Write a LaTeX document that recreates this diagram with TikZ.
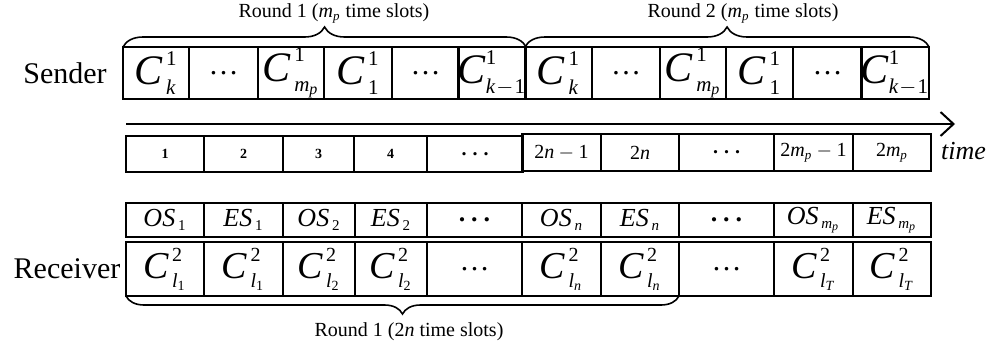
\documentclass[tikz,border=0pt]{standalone}
\usepackage{amsmath}
\usepackage{fontspec}
\setmainfont{Liberation Serif}
\usetikzlibrary{arrows.meta,decorations.pathreplacing,positioning}
\DeclareMathSizes{21}{21}{10.5}{8}
\DeclareMathSizes{19}{19}{10}{7}
\DeclareMathSizes{13}{13}{7.5}{6}
\DeclareMathSizes{10}{10}{6.5}{5}
\newcommand{\mi}[1]{\textit{#1}}
\newcommand{\mr}[1]{\textup{#1}}
\newcommand{\cdotsbig}{{\fontsize{15}{18}\selectfont\ldots}}
\newcommand{\tdots}{\textbf{.\hspace{3pt}.\hspace{3pt}.}}
\newcommand{\chan}[2]{$\mi{C}^{\,\mr{#1}}_{\,#2}$}
\newcommand{\chanlast}{$\mi{C}^{\mr{1}}_{\mi{k}\mkern1mu-\mkern1mu\mr{1}}$}

\begin{document}
\begin{tikzpicture}[x=0.5pt,y=-0.5pt,
	slot/.style={draw, line width=1pt, inner sep=0pt, outer sep=0pt},
	brc/.style={decorate, decoration={brace, amplitude=#1}, line width=0.8pt},
	brc/.default=10pt,
	sendfont/.style={font=\fontsize{21}{25}\selectfont},
	recfont/.style={font=\fontsize{19}{23}\selectfont},
	esfont/.style={font=\fontsize{13}{15}\selectfont},
	timefont/.style={font=\fontsize{10}{12}\selectfont},
	numfont/.style={font=\fontsize{7}{8}\selectfont\bfseries}]
	\useasboundingbox (0,0) rectangle (987,354);

	% sender row
	\node[font=\fontsize{15}{18}\selectfont] (sender) at (65,73) {Sender};
	\foreach \xa/\xb/\lab [count=\i] in {
		123/189/{\chan{1}{\mi{k}}}, 189/258/{\cdotsbig},
		258/324/{\chan{1}{\mi{m}_{\mi{p}}}}, 324/392/{\chan{1}{\mr{1}}},
		392/459/{\cdotsbig}, 459/525/{\chanlast},
		525/592/{\chan{1}{\mi{k}}}, 592/660/{\cdotsbig},
		660/726/{\chan{1}{\mi{m}_{\mi{p}}}}, 726/793/{\chan{1}{\mr{1}}},
		793/862/{\cdotsbig}, 862/928/{\chanlast}}{
		\pgfmathsetmacro\w{(\xb-\xa)*0.5}
		\node[slot, sendfont, minimum width=\w pt, minimum height=26pt] (s\i) at ({(\xa+\xb)/2},73) {\lab};
	}
	\draw[brc] (s1.north west) -- (s6.north east);
	\draw[brc] (s7.north west) -- (s12.north east);
	\node[font=\fontsize{10}{12}\selectfont] (round1) at (334,13) {Round 1 ($\mi{m}_{\mi{p}}$ time slots)};
	\node[font=\fontsize{10}{12}\selectfont] (round2) at (743,13) {Round 2 ($\mi{m}_{\mi{p}}$ time slots)};

	% time axis
	\coordinate (tstart) at (126,124);
	\coordinate (tend) at (955,124);
	\draw[line width=1pt, -{Straight Barb[length=6.5pt,width=12pt]}] (tstart) -- (tend);
	\foreach \xa/\xb/\lab [count=\i] in {
		126/204/1, 204/283/2, 283/354/3, 354/427/4}{
		\pgfmathsetmacro\w{(\xb-\xa)*0.5}
		\node[slot, numfont, minimum width=\w pt, minimum height=18pt] (t\i) at ({(\xa+\xb)/2},154) {\lab};
	}
	\node[slot, timefont, minimum width=48pt, minimum height=18pt] (t5) at (475,154) {\tdots};
	\foreach \xa/\xb/\lab [count=\i from 6] in {
		522/601/{$\mr{2}\mi{n}-\mr{1}$}, 601/679/{$\mr{2}\mi{n}$},
		679/774/{\tdots}, 774/853/{$\mr{2}\mi{m}_{\mi{p}}-\mr{1}$},
		853/931/{$\mr{2}\mi{m}_{\mi{p}}$}}{
		\pgfmathsetmacro\w{(\xb-\xa)*0.5}
		\node[slot, timefont, minimum width=\w pt, minimum height=18.5pt] (t\i) at ({(\xa+\xb)/2},152.5) {\lab};
	}
	\node[font=\fontsize{13}{15}\selectfont\itshape, anchor=west] (time) at (934,151) {time};

	% receiver rows
	\node[font=\fontsize{15}{18}\selectfont] (receiver) at (67,269) {Receiver};
	\foreach \xa/\xb/\lab [count=\i] in {
		126/204/{$\mi{OS}_{\,\mr{1}}$}, 204/283/{$\mi{ES}_{\,\mr{1}}$},
		283/355/{$\mi{OS}_{\,\mr{2}}$}, 355/427/{$\mi{ES}_{\,\mr{2}}$},
		427/522/{\tdots}, 522/601/{$\mi{OS}_{\,\mi{n}}$},
		601/679/{$\mi{ES}_{\,\mi{n}}$}, 679/774/{\tdots},
		774/853/{$\mi{OS}_{\,\mi{m}_{\mi{p}}}$}, 853/931/{$\mi{ES}_{\,\mi{m}_{\mi{p}}}$}}{
		\pgfmathsetmacro\w{(\xb-\xa)*0.5}
		\node[slot, esfont, minimum width=\w pt, minimum height=17pt] (o\i) at ({(\xa+\xb)/2},220) {\lab};
	}
	\foreach \xa/\xb/\lab [count=\i] in {
		126/204/{\chan{2}{\mi{l}_{\mr{1}}}}, 204/283/{\chan{2}{\mi{l}_{\mr{1}}}},
		283/355/{\chan{2}{\mi{l}_{\mr{2}}}}, 355/427/{\chan{2}{\mi{l}_{\mr{2}}}},
		427/522/{\cdotsbig}, 522/601/{\chan{2}{\mi{l}_{\mi{n}}}},
		601/679/{\chan{2}{\mi{l}_{\mi{n}}}}, 679/774/{\cdotsbig},
		774/853/{\chan{2}{\mi{l}_{\mi{T}}}}, 853/931/{\chan{2}{\mi{l}_{\mi{T}}}}}{
		\pgfmathsetmacro\w{(\xb-\xa)*0.5}
		\node[slot, recfont, minimum width=\w pt, minimum height=27pt] (r\i) at ({(\xa+\xb)/2},269) {\lab};
	}
	\draw[brc=9pt] (r7.south east) -- (r1.south west);
	\node[font=\fontsize{10}{12}\selectfont] (round3) at (409,332) {Round 1 (2$\mi{n}$ time slots)};
\end{tikzpicture}
\end{document}
